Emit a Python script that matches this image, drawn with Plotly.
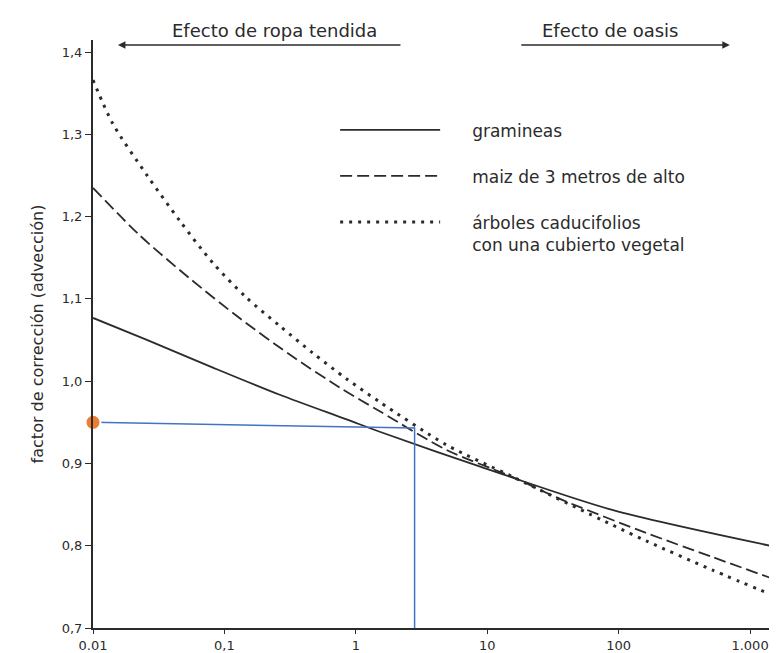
import plotly.graph_objects as go

# ---- data ----
grass_x = [0.01, 0.0257, 0.0817, 0.2636, 0.851, 1.52, 8.73, 89.4, 1578]
grass_y = [1.0768, 1.0501, 1.0165, 0.9835, 0.9535, 0.9385, 0.8964, 0.8435, 0.7985]

maize_x = [0.01, 0.02275, 0.0546, 0.131, 0.314, 0.753, 1.52, 4.90, 15.5, 37.2, 162, 514, 1578]
maize_y = [1.2348, 1.177, 1.1247, 1.0764, 1.0323, 0.9923, 0.9634, 0.9164, 0.8836, 0.8557,
           0.8156, 0.7864, 0.7584]

trees_x = [0.01, 0.01419, 0.0257, 0.0458, 0.0817, 0.148, 0.2636, 0.470, 0.851, 1.52,
           4.90, 15.5, 89.4, 162, 514, 1578]
trees_y = [1.366, 1.3125, 1.2505, 1.1947, 1.1436, 1.1011, 1.0671, 1.0343, 1.0027, 0.9747,
           0.9225, 0.884, 0.8253, 0.8058, 0.7706, 0.7382]

guide_x = [0.01, 2.8, 2.8]
guide_y = [0.950, 0.943, 0.70]

point_x = [0.01]
point_y = [0.950]

x_tickvals = [0.01, 0.1, 1, 10, 100, 1000]
x_ticktext = ["0.01", "0,1", "1", "10", "100", "1.000"]
y_tickvals = [0.7, 0.8, 0.9, 1.0, 1.1, 1.2, 1.3, 1.4]
y_ticktext = ["0,7", "0,8", "0,9", "1,0", "1,1", "1,2", "1,3", "1,4"]

PAD = "\u00a0" * 5
names = [PAD + "gramineas", PAD + "maiz de 3 metros de alto",
         PAD + "árboles caducifolios<br>" + PAD + "con una cubierto vegetal"]

INK = "#2b2b2b"
FONT = "DejaVu Sans"

fig = go.Figure()
fig.add_trace(go.Scatter(x=grass_x, y=grass_y, mode="lines", name=names[0],
                         legendgroup="a",
                         line=dict(color=INK, width=1.8, shape="spline", smoothing=0.8)))
fig.add_trace(go.Scatter(x=maize_x, y=maize_y, mode="lines", name=names[1],
                         legendgroup="b",
                         line=dict(color=INK, width=1.8, dash="12px,5px",
                                   shape="spline", smoothing=0.8)))
fig.add_trace(go.Scatter(x=trees_x, y=trees_y, mode="lines", name=names[2],
                         legendgroup="c",
                         line=dict(color=INK, width=3, dash="3px,6px",
                                   shape="spline", smoothing=0.8)))
fig.add_trace(go.Scatter(x=guide_x, y=guide_y, mode="lines", showlegend=False,
                         line=dict(color="#4472C4", width=1.5)))
fig.add_trace(go.Scatter(x=point_x, y=point_y, mode="markers", showlegend=False,
                         cliponaxis=False,
                         marker=dict(color="#ED7D31", size=15,
                                     line=dict(color="white", width=2))))

fig.update_layout(
    width=769, height=645,
    margin=dict(l=85, r=0, t=32, b=25, autoexpand=False),
    paper_bgcolor="white", plot_bgcolor="white",
    font=dict(family=FONT, color=INK, size=14),
    showlegend=True,
    legend=dict(x=0.354, y=0.877, xanchor="left", yanchor="top",
                bgcolor="rgba(0,0,0,0)", itemwidth=100, valign="top",
                tracegroupgap=21,
                font=dict(family=FONT, size=17, color=INK)),
    xaxis=dict(type="log", range=[-2, 3.205], tickvals=x_tickvals, ticktext=x_ticktext,
               showline=True, linecolor=INK, linewidth=2, ticks="outside",
               ticklen=4, tickcolor=INK, showgrid=False, zeroline=False,
               automargin=False, tickfont=dict(size=13)),
    yaxis=dict(range=[0.7, 1.4146], tickvals=y_tickvals, ticktext=y_ticktext,
               showline=True, linecolor=INK, linewidth=2, ticks="outside",
               ticklen=6, tickcolor=INK, showgrid=False, zeroline=False,
               automargin=False, tickfont=dict(size=13),
               title=dict(text="factor de corrección (advección)", standoff=14,
                          font=dict(size=16))),
    annotations=[
        dict(text="Efecto de ropa tendida", xref="paper", yref="paper",
             x=0.266, y=1.017, xanchor="center", yanchor="middle",
             showarrow=False, font=dict(size=18)),
        dict(text="Efecto de oasis", xref="paper", yref="paper",
             x=0.756, y=1.017, xanchor="center", yanchor="middle",
             showarrow=False, font=dict(size=18)),
        dict(text="", xref="paper", yref="paper", x=0.0365, y=0.9915,
             ax=284, ay=0, showarrow=True, arrowhead=2, arrowsize=1,
             arrowwidth=1.5, arrowcolor=INK),
        dict(text="", xref="paper", yref="paper", x=0.931, y=0.9915,
             ax=-210, ay=0, showarrow=True, arrowhead=2, arrowsize=1,
             arrowwidth=1.5, arrowcolor=INK),
    ],
)

fig.write_html("out.html")
